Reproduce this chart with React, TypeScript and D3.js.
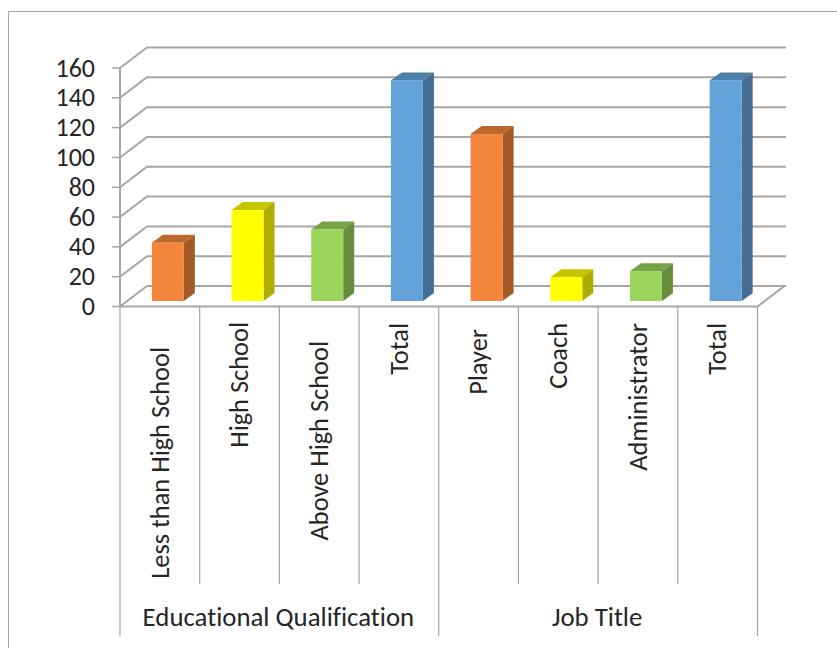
import React from "react";
import * as d3 from "d3";

const categories = ["Less than High School", "High School", "Above High School", "Total", "Player", "Coach", "Administrator", "Total"];
const labelStarts = [347, 322, 341, 323, 329, 323, 323, 323];
const groups = ["Educational Qualification", "Job Title"];
const groupSizes = [4, 4];
const values = [39, 61, 48, 148, 112, 16, 20, 148];
const fronts = ["#F4873B", "#FFFF00", "#9BD55C", "#64A2DA", "#F4873B", "#FFFF00", "#9BD55C", "#64A2DA"];
const tops = ["#BC682D", "#C6C600", "#78A447", "#4E7EAA", "#BC682D", "#C6C600", "#78A447", "#4E7EAA"];
const sides = ["#A35A27", "#AEAE00", "#688E3D", "#446D93", "#A35A27", "#AEAE00", "#688E3D", "#446D93"];
const ticks = [0, 20, 40, 60, 80, 100, 120, 140, 160];

const W = 837, H = 648;
const FONT = "Carlito, Calibri, 'Open Sans', 'Noto Sans', sans-serif";
const GRID = "#A6A6A6";
const textStyle = { fontVariantLigatures: "none" } as React.CSSProperties;

export default function App() {
  const y = d3.scaleLinear().domain([0, 160]).range([306.5, 68]);
  const x = d3.scaleBand().domain(categories.map((_, i) => String(i))).range([120, 757.5]);
  const wallDx = 27, wallDy = -20.5;
  const barW = 32, depthX = 11, depthY = -8, barShiftX = 8, barShiftY = -5.5;
  const pts = (p: number[][]) => p.map((d) => d.join(",")).join(" ");
  let start = 0;
  return (
    <svg width={W} height={H} style={{ position: "absolute", left: 0, top: 0, background: "#fff" }}>
      <path d="M8.5,648 V11.5 H837" fill="none" stroke={GRID} strokeWidth={1} />
      {ticks.map((t) => (
        <g key={t}>
          <line x1={112} x2={120} y1={y(t)} y2={y(t)} stroke={GRID} strokeWidth={1.5} />
          {t === 0 ? (
            <path d={`M120,${y(t)} H757.5 L${757.5 + wallDx},${y(t) + wallDy}`} fill="none" stroke={GRID} strokeWidth={2} />
          ) : null}
          <path
            d={`M120,${y(t)} L${120 + wallDx},${y(t) + wallDy} H786`}
            fill="none"
            stroke={GRID}
            strokeWidth={2}
          />
          <text x={95} y={y(t)} dy="0.33em" textAnchor="end" fontFamily={FONT} fontSize={26} fill="#262626" style={textStyle}>
            {t}
          </text>
        </g>
      ))}
      <line x1={120} x2={120} y1={y(160)} y2={y(0)} stroke={GRID} strokeWidth={2} />
      {values.map((v, i) => {
        const left = (x(String(i)) as number) + barShiftX + (x.bandwidth() - barW) / 2;
        const base = y(0) + barShiftY;
        const top = base - (y(0) - y(v));
        const r = left + barW;
        return (
          <g key={i}>
            <polygon points={pts([[left, top], [left + depthX, top + depthY], [r + depthX, top + depthY], [r, top]])} fill={tops[i]} />
            <polygon points={pts([[r, top], [r + depthX, top + depthY], [r + depthX, base + depthY], [r, base]])} fill={sides[i]} />
            <rect x={left} y={top} width={barW} height={base - top} fill={fronts[i]} />
          </g>
        );
      })}
      {categories.map((c, i) => {
        const cx = (x(String(i)) as number) + x.bandwidth() / 2;
        return (
          <text key={i} transform={`translate(${cx},${labelStarts[i]}) rotate(-90)`} dy="0.33em" textAnchor="end" fontFamily={FONT} fontSize={26.4} fill="#262626" style={textStyle}>
            {c}
          </text>
        );
      })}
      {d3.range(0, categories.length + 1).map((i) => {
        const px = i === categories.length ? 757.5 : (x(String(i)) as number);
        const long = i % 4 === 0;
        return <line key={i} x1={px} x2={px} y1={306.5} y2={long ? 636 : 584} stroke={GRID} strokeWidth={1.2} />;
      })}
      {groups.map((g, k) => {
        const a = x(String(start)) as number;
        const w = groupSizes[k] * x.bandwidth();
        start += groupSizes[k];
        return (
          <text key={g} x={a + w / 2 - 1} y={617} dy="0.33em" textAnchor="middle" fontFamily={FONT} fontSize={26.8} fill="#262626" style={textStyle}>
            {g}
          </text>
        );
      })}
    </svg>
  );
}
